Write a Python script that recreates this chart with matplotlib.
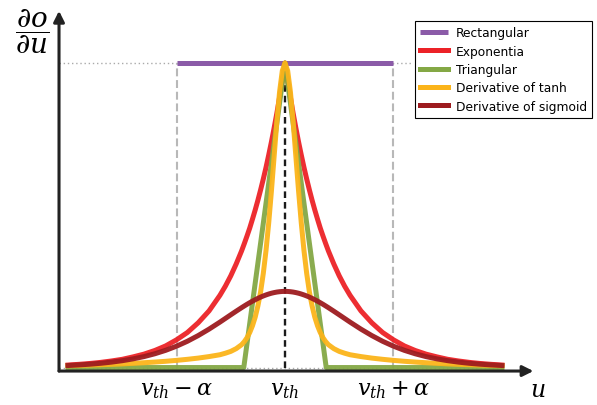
import numpy as np
from matplotlib import pyplot as plt

# surrogate gradient curves (u in units of alpha)
# curves are symmetric, so only the u >= 0 half is listed
u_half = [0.0, 0.025, 0.05, 0.075, 0.1, 0.125, 0.15, 0.175, 0.2, 0.225, 0.25, 0.275,
          0.3, 0.325, 0.35, 0.375, 0.4, 0.45, 0.5, 0.55, 0.6, 0.7, 0.8, 0.9,
          1.0, 1.1, 1.2, 1.3, 1.4, 1.5, 1.6, 1.7, 1.8, 1.9, 2.0]

exp_half = [1.0, 0.942, 0.887, 0.835, 0.787, 0.741, 0.698, 0.657, 0.619, 0.583, 0.549, 0.517,
            0.487, 0.458, 0.432, 0.407, 0.383, 0.340, 0.301, 0.267, 0.237, 0.186, 0.147, 0.115,
            0.091, 0.071, 0.056, 0.044, 0.035, 0.027, 0.0215, 0.0169, 0.0133, 0.0105, 0.0082]

tanh_half = [1.0, 0.974, 0.905, 0.807, 0.694, 0.580, 0.475, 0.384, 0.309, 0.248, 0.202, 0.165,
             0.137, 0.115, 0.098, 0.085, 0.075, 0.062, 0.053, 0.047, 0.042, 0.036, 0.031, 0.027,
             0.0235, 0.0205, 0.018, 0.0158, 0.0138, 0.012, 0.0105, 0.0092, 0.008, 0.007, 0.006]

sig_half = [0.25, 0.2498, 0.249, 0.2478, 0.2461, 0.244, 0.2414, 0.2384, 0.235, 0.2312, 0.2271, 0.2226,
            0.2179, 0.2129, 0.2077, 0.2022, 0.1966, 0.185, 0.1731, 0.1611, 0.1491, 0.1261, 0.105, 0.0862,
            0.0701, 0.0565, 0.0452, 0.0359, 0.0285, 0.0225, 0.0177, 0.0139, 0.0109, 0.0086, 0.0066]

tri_u = [-2.0, -0.38, 0.0, 0.38, 2.0]
tri_vals = [0.0, 0.0, 1.0, 0.0, 0.0]

rect_u = [-1.0, 1.0]
rect_vals = [1.0, 1.0]

tick_pos = [-1.0, 0.0, 1.0]
tick_labels = [r'$v_{th}-\alpha$', r'$v_{th}$', r'$v_{th}+\alpha$']


def mirror(u, v):
    u = np.asarray(u)
    v = np.asarray(v)
    return np.concatenate([-u[:0:-1], u]), np.concatenate([v[:0:-1], v])


plt.rcParams['mathtext.fontset'] = 'dejavuserif'

fig = plt.figure(figsize=(5.97, 4.06), dpi=100)
ax = fig.add_axes([0, 0, 1, 1])
ax.set_xlim(-2.627, 2.876)
ax.set_ylim(-0.123, 1.210)
ax.axis('off')

# guide lines
ax.plot([-2.08, 1.16], [1, 1], color='#aaaaaa', lw=1, ls=(0, (1, 2)), zorder=1)
ax.plot([-2.08, 2.0], [0, 0], color='#aaaaaa', lw=1, ls=(0, (1, 2)), zorder=1)
for x in [-1, 1]:
    ax.plot([x, x], [0, 1], color='#b8b8b8', lw=1.5, ls=(0, (3.8, 1.8)), zorder=1)
ax.plot([0, 0], [0, 1], color='#1a1a1a', lw=1.7, ls=(0, (2.8, 1.7)), zorder=1.5)

lw = 3.6
ax.plot(rect_u, rect_vals, color='#8b5ba8', lw=lw, solid_capstyle='butt', label='Rectangular', zorder=2)
ax.plot(*mirror(u_half, exp_half), color='#ec2227', lw=lw, alpha=0.95, label='Exponentia', zorder=3)
ax.plot(tri_u, tri_vals, color='#84a845', lw=lw, alpha=0.95, label='Triangular', zorder=4)
ax.plot(*mirror(u_half, tanh_half), color='#fbb41a', lw=lw, alpha=0.95, label='Derivative of tanh', zorder=5)
ax.plot(*mirror(u_half, sig_half), color='#9d1b1f', lw=lw, alpha=0.95, label='Derivative of sigmoid', zorder=6)

# axes with arrows
axis_y = -0.0115
axis_x = -2.083
arrow = dict(arrowstyle='-|>', lw=2.2, color='#222222', mutation_scale=16, shrinkA=0, shrinkB=0)
ax.annotate('', xy=(2.29, axis_y), xytext=(axis_x, axis_y), arrowprops=arrow, zorder=7)
ax.annotate('', xy=(axis_x, 1.171), xytext=(axis_x, axis_y), arrowprops=arrow, zorder=7)

for p, lab in zip(tick_pos, tick_labels):
    ax.text(p, -0.087, lab, ha='center', va='baseline', fontsize=16)
ax.text(2.33, -0.093, r'$u$', ha='center', va='baseline', fontsize=17)
ax.text(-2.333, 1.105, r'$\dfrac{\partial o}{\partial u}$', ha='center', va='center', fontsize=20)

leg = ax.legend(loc='upper right', bbox_to_anchor=(592 / 597, 1 - 22 / 406),
                bbox_transform=fig.transFigure, borderaxespad=0, fontsize=8.8,
                fancybox=False, framealpha=1, edgecolor='black',
                handlelength=2.3, handletextpad=0.65, labelspacing=0.44, borderpad=0.42)
leg.get_frame().set_linewidth(0.8)
for line in leg.get_lines():
    line.set_alpha(1)

fig.savefig('out.png', dpi=100)
